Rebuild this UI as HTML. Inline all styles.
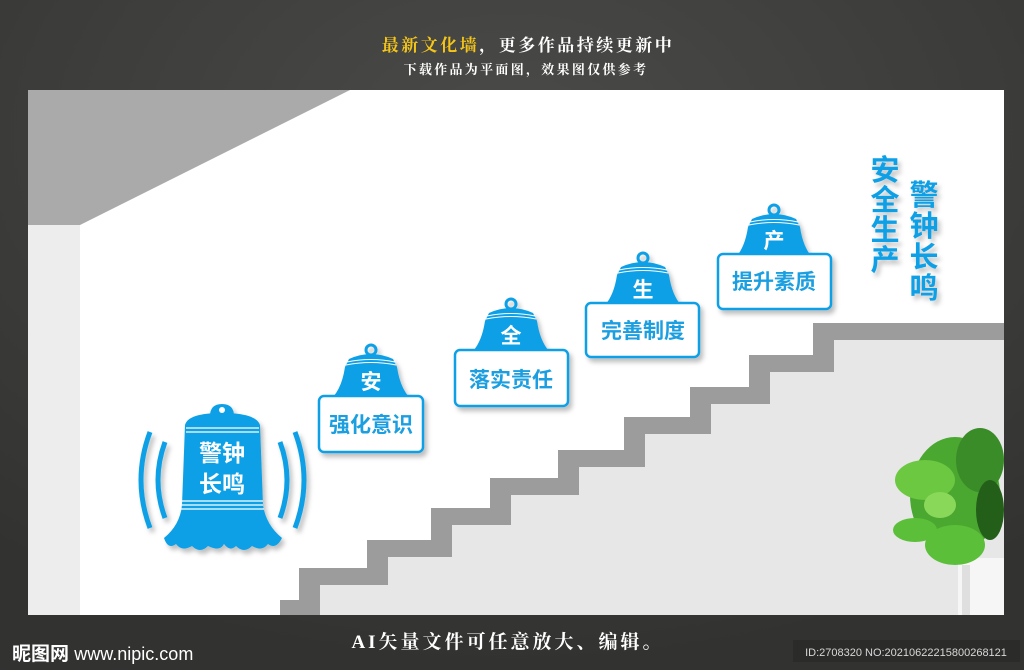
<!DOCTYPE html>
<html><head><meta charset="utf-8"><style>
html,body{margin:0;padding:0;}
body{width:1024px;height:670px;overflow:hidden;background:#3a3a38;}
svg{display:block;}
</style></head><body>
<svg width="1024" height="670" viewBox="0 0 1024 670" xmlns="http://www.w3.org/2000/svg" font-family="'Liberation Sans','Noto Sans CJK SC',sans-serif">
<defs>
<radialGradient id="bg" cx="50%" cy="20%" r="80%"><stop offset="0" stop-color="#4a4a48"/><stop offset="1" stop-color="#323230"/></radialGradient>
<filter id="sh" x="-20%" y="-20%" width="150%" height="150%"><feDropShadow dx="3" dy="4" stdDeviation="2.5" flood-color="#000" flood-opacity="0.25"/></filter>
<g id="sb">
<circle cx="0" cy="5" r="5" fill="none" stroke="#0fa0e6" stroke-width="3"/>
<path d="M-22,14 Q0,4 22,14 L26,22 Q29,42 38,52 L-38,52 Q-29,42 -26,22 Z" fill="#0fa0e6"/>
<path d="M-24,17 Q0,12 24,17 M-25,20 Q0,15 25,20" stroke="#fff" stroke-width="1" fill="none"/>
</g>
</defs>
<rect width="1024" height="670" fill="url(#bg)"/>
<text x="528" y="51" font-size="17" font-weight="bold" fill="#fff" text-anchor="middle" letter-spacing="2.5" font-family="'Liberation Serif','Noto Serif CJK SC',serif"><tspan fill="#f5c518">最新文化墙</tspan>，更多作品持续更新中</text>
<text x="526" y="74" font-size="13" font-weight="bold" fill="#fff" text-anchor="middle" letter-spacing="2.3" font-family="'Liberation Serif','Noto Serif CJK SC',serif">下载作品为平面图，效果图仅供参考</text>
<!-- wall -->
<rect x="28" y="90" width="976" height="525" fill="#fff"/>
<polygon points="28,90 350,90 80,225 28,225" fill="#aaaaaa"/>
<rect x="28" y="225" width="52" height="390" fill="#ededed"/>
<!-- stairs -->
<polygon points="280,615 280,600 299,600 299,568 367,568 367,540 431,540 431,508 490,508 490,478 558,478 558,450 624,450 624,417 690,417 690,387 749,387 749,355 813,355 813,323 1004,323 1004,615" fill="#9c9c9c"/>
<polygon points="300,615 320,615 320,585 388,585 388,557 452,557 452,525 511,525 511,495 579,495 579,467 645,467 645,434 711,434 711,404 770,404 770,372 834,372 834,340 1004,340 1004,615" fill="#e7e7e7"/>
<!-- plant -->
<g>
<rect x="958" y="558" width="46" height="57" fill="#f6f6f6"/>
<rect x="962" y="565" width="8" height="50" fill="#d0d0d0" opacity="0.6"/>
<ellipse cx="955" cy="495" rx="45" ry="58" fill="#4aa830"/>
<ellipse cx="925" cy="480" rx="30" ry="20" fill="#6cc840"/>
<ellipse cx="915" cy="530" rx="22" ry="12" fill="#5cbf3a"/>
<ellipse cx="980" cy="460" rx="24" ry="32" fill="#3a8c28"/>
<ellipse cx="955" cy="545" rx="30" ry="20" fill="#5cbf3a"/>
<ellipse cx="990" cy="510" rx="14" ry="30" fill="#245f1a"/>
<ellipse cx="940" cy="505" rx="16" ry="13" fill="#8ad85a"/>
</g>
<!-- big bell -->
<g filter="url(#sh)">
<path d="M150,432 Q132,480 150,528" stroke="#0fa0e6" stroke-width="5" fill="none"/>
<path d="M165,442 Q151,480 165,518" stroke="#0fa0e6" stroke-width="5" fill="none"/>
<path d="M295,432 Q313,480 295,528" stroke="#0fa0e6" stroke-width="5" fill="none"/>
<path d="M280,442 Q294,480 280,518" stroke="#0fa0e6" stroke-width="5" fill="none"/>
<path d="M210,416 Q210,404 222,404 Q234,404 234,416 Z" fill="#0fa0e6"/>
<circle cx="222" cy="410" r="3" fill="#fff"/>
<path d="M185,425 Q188,413 222,413 Q256,413 260,425 L263,505 Q266,525 282,538 Q276,550 268,544 Q262,552 252,546 Q244,554 236,546 Q230,552 224,544 Q220,552 208,546 Q200,554 192,546 Q182,552 176,544 Q168,550 164,538 Q180,525 182,505 Z" fill="#0fa0e6"/>
<path d="M186,428 L259,428 M186,432 L259,432 M182,501 L263,501 M182,505 L263,505 M181,509 L264,509" stroke="#fff" stroke-width="1.3"/>
<text x="222" y="461" font-size="23" fill="#fff" text-anchor="middle" font-weight="bold">警钟</text>
<text x="222" y="492" font-size="23" fill="#fff" text-anchor="middle" font-weight="bold">长鸣</text>
</g>
<!-- small bells -->
<g filter="url(#sh)">
<use href="#sb" x="371" y="345"/>
<rect x="319" y="396" width="104" height="56" rx="5" fill="#fff" stroke="#0fa0e6" stroke-width="2.5"/>
<text x="371" y="389" font-size="21" font-weight="bold" fill="#fff" text-anchor="middle">安</text>
<text x="371" y="432" font-size="21" font-weight="bold" fill="#1a9fe0" text-anchor="middle">强化意识</text>

<use href="#sb" x="511" y="299"/>
<rect x="455" y="350" width="113" height="56" rx="5" fill="#fff" stroke="#0fa0e6" stroke-width="2.5"/>
<text x="511" y="343" font-size="21" font-weight="bold" fill="#fff" text-anchor="middle">全</text>
<text x="511" y="387" font-size="21" font-weight="bold" fill="#1a9fe0" text-anchor="middle">落实责任</text>

<use href="#sb" x="643" y="253"/>
<rect x="586" y="303" width="113" height="54" rx="5" fill="#fff" stroke="#0fa0e6" stroke-width="2.5"/>
<text x="643" y="297" font-size="21" font-weight="bold" fill="#fff" text-anchor="middle">生</text>
<text x="643" y="338" font-size="21" font-weight="bold" fill="#1a9fe0" text-anchor="middle">完善制度</text>

<use href="#sb" x="774" y="205"/>
<rect x="718" y="254" width="113" height="55" rx="5" fill="#fff" stroke="#0fa0e6" stroke-width="2.5"/>
<text x="774" y="248" font-size="21" font-weight="bold" fill="#fff" text-anchor="middle">产</text>
<text x="774" y="289" font-size="21" font-weight="bold" fill="#1a9fe0" text-anchor="middle">提升素质</text>
</g>
<!-- vertical titles -->
<g filter="url(#sh)" font-size="29" font-weight="bold" fill="#0fa0e6" text-anchor="middle">
<text x="885" y="180">安</text><text x="885" y="210">全</text><text x="885" y="240">生</text><text x="885" y="270">产</text>
<text x="924" y="205">警</text><text x="924" y="236">钟</text><text x="924" y="267">长</text><text x="924" y="298">鸣</text>
</g>
<!-- footer -->
<text x="508" y="648" font-size="19" font-weight="bold" fill="#fff" text-anchor="middle" letter-spacing="3" font-family="'Liberation Serif','Noto Serif CJK SC',serif">AI矢量文件可任意放大、编辑。</text>
<text x="12" y="660" font-size="19" font-weight="bold" fill="#fff">昵图网 <tspan font-size="18" font-weight="normal">www.nipic.com</tspan></text>
<rect x="793" y="640" width="227" height="22" fill="#2b2b2a"/>
<text x="906" y="656" font-size="11" fill="#d8d8d8" text-anchor="middle">ID:2708320 NO:20210622215800268121</text>
</svg>
</body></html>
